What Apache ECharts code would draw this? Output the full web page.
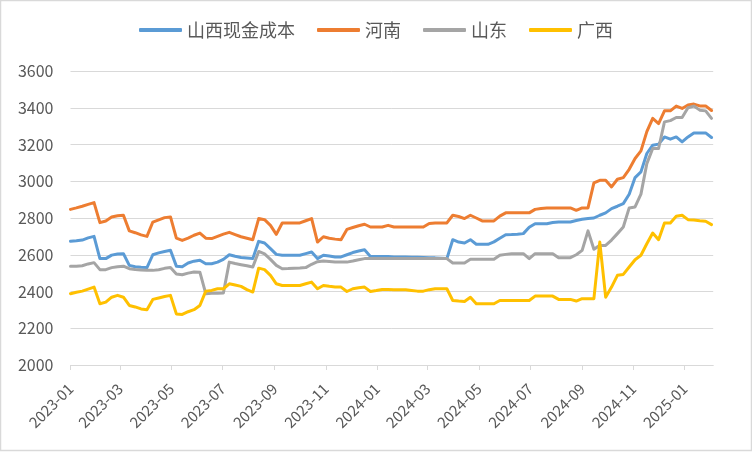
<!DOCTYPE html>
<html>
<head>
<meta charset="utf-8">
<script src="https://cdn.jsdelivr.net/npm/echarts@6/dist/echarts.min.js"></script>
<style>
html,body{margin:0;padding:0;background:#fff;}
#main{width:752px;height:452px;}
</style>
</head>
<body>
<div id="main"></div>
<script>
// Weekly observations starting 2023-01-01 (day offsets from 2023-01-01)
const startDate = '2023-01-01';
const weekCount = 110;
const seriesNames = ['山西现金成本', '河南', '山东', '广西'];
const tickMonths = ['2023-01','2023-03','2023-05','2023-07','2023-09','2023-11','2024-01','2024-03','2024-05','2024-07','2024-09','2024-11','2025-01'];
const yTicks = [2000, 2200, 2400, 2600, 2800, 3000, 3200, 3400, 3600];

const shanxi = [
2673,2676,2680,2692,2700,2579,2579,2598,2604,2606,
2542,2535,2532,2530,2600,2610,2618,2624,2538,2535,
2555,2565,2570,2551,2551,2560,2575,2600,2592,2585,
2582,2579,2673,2664,2633,2602,2597,2597,2597,2597,
2606,2615,2579,2597,2593,2588,2588,2600,2612,2620,
2627,2591,2591,2591,2590,2588,2588,2588,2587,2586,
2585,2584,2583,2581,2579,2682,2669,2664,2682,2657,
2657,2657,2670,2690,2709,2710,2712,2715,2750,2769,
2769,2769,2775,2778,2778,2778,2786,2793,2797,2800,
2815,2828,2851,2864,2878,2929,3020,3051,3151,3196,
3202,3241,3229,3241,3214,3241,3263,3263,3263,3238];

const henan = [
2847,2855,2864,2874,2884,2775,2784,2805,2812,2815,
2730,2720,2708,2700,2778,2790,2802,2806,2690,2678,
2690,2706,2718,2690,2688,2700,2712,2722,2710,2698,
2690,2682,2797,2791,2760,2711,2773,2773,2773,2773,
2785,2797,2669,2698,2690,2685,2682,2738,2748,2758,
2766,2751,2751,2751,2760,2751,2751,2751,2751,2751,
2751,2770,2773,2773,2773,2815,2808,2797,2815,2800,
2784,2784,2784,2810,2828,2828,2828,2828,2828,2847,
2852,2855,2855,2855,2855,2855,2842,2855,2855,2991,
3005,3005,2969,3011,3020,3065,3124,3165,3270,3342,
3314,3383,3383,3409,3396,3415,3420,3410,3410,3385];

const shandong = [
2537,2537,2540,2550,2557,2519,2519,2530,2535,2538,
2524,2520,2517,2515,2515,2518,2526,2530,2495,2491,
2500,2506,2505,2388,2390,2390,2392,2560,2552,2546,
2540,2533,2618,2605,2575,2542,2524,2525,2527,2528,
2530,2548,2562,2566,2563,2560,2560,2560,2566,2573,
2579,2579,2579,2579,2579,2579,2579,2579,2579,2579,
2579,2579,2579,2579,2579,2555,2555,2555,2575,2575,
2575,2575,2575,2597,2602,2606,2606,2606,2579,2606,
2606,2606,2606,2584,2584,2584,2600,2624,2730,2630,
2651,2651,2680,2715,2751,2855,2860,2930,3096,3178,
3178,3323,3330,3347,3347,3400,3409,3387,3383,3342];

const guangxi = [
2388,2396,2402,2413,2424,2333,2342,2369,2379,2369,
2324,2316,2305,2301,2357,2365,2373,2379,2278,2275,
2290,2301,2324,2402,2406,2415,2415,2442,2435,2428,
2410,2397,2527,2519,2488,2442,2433,2433,2433,2433,
2442,2451,2415,2433,2428,2424,2424,2400,2415,2420,
2424,2400,2405,2411,2411,2410,2410,2410,2406,2402,
2402,2410,2415,2415,2415,2351,2348,2346,2369,2333,
2333,2333,2333,2351,2351,2351,2351,2351,2351,2375,
2375,2375,2375,2357,2357,2357,2348,2361,2361,2361,
2669,2369,2424,2488,2493,2533,2573,2597,2660,2718,
2682,2773,2773,2809,2815,2791,2789,2785,2782,2764];

const colors = ['#5B9BD5', '#ED7D31', '#A5A5A5', '#FFC000'];
const DAY = 86400000;
const t0 = Date.UTC(2023, 0, 1);
function dayOf(str) {
  const p = str.split('-').map(Number);
  return (Date.UTC(p[0], p[1] - 1, p[2] || 1) - t0) / DAY;
}
const startDay = dayOf(startDate);
const days = [];
for (let i = 0; i < weekCount; i++) days.push(startDay + i * 7);
const tickDays = tickMonths.map(m => dayOf(m));
function fmt(d) {
  const dt = new Date(t0 + d * DAY);
  const m = dt.getUTCMonth() + 1;
  return dt.getUTCFullYear() + '-' + (m < 10 ? '0' + m : m);
}
const allData = [shanxi, henan, shandong, guangxi];
const txt = '#595959';
const ff = '"Noto Sans CJK SC", "Noto Sans", sans-serif';

const chart = echarts.init(document.getElementById('main'), null, {renderer: 'canvas'});
chart.setOption({
  animation: false,
  backgroundColor: '#fff',
  color: colors,
  graphic: [{
    type: 'rect', silent: true, z: -1,
    shape: {x: 0.5, y: 0.5, width: 751, height: 450},
    style: {fill: 'none', stroke: '#d9d9d9', lineWidth: 1.5}
  }],
  legend: {
    top: 16, left: 'center',
    icon: 'roundRect',
    itemWidth: 43, itemHeight: 4, itemGap: 22,
    textStyle: {fontSize: 18, color: txt, fontFamily: ff},
    data: seriesNames
  },
  grid: {left: 70.5, right: 38.8, top: 71, bottom: 87, containLabel: false},
  xAxis: {
    type: 'value',
    min: 0, max: 765,
    splitLine: {show: false},
    axisLine: {show: true, lineStyle: {color: '#d9d9d9', width: 1}},
    axisTick: {show: true, length: 5, customValues: tickDays, lineStyle: {color: '#d9d9d9'}},
    axisLabel: {
      customValues: tickDays, rotate: 45, margin: 21,
      fontSize: 15, color: txt, fontFamily: ff,
      formatter: v => fmt(v)
    }
  },
  yAxis: {
    type: 'value', min: yTicks[0], max: yTicks[yTicks.length - 1], interval: 200,
    axisLine: {show: false}, axisTick: {show: false},
    splitLine: {lineStyle: {color: '#d9d9d9', width: 1}},
    axisLabel: {fontSize: 16, color: txt, margin: 17, fontFamily: ff, formatter: v => String(v)}
  },
  series: seriesNames.map((n, i) => ({
    name: n, type: 'line', symbol: 'none', showSymbol: false,
    lineStyle: {width: 3, color: colors[i], cap: 'round', join: 'round'},
    itemStyle: {color: colors[i]},
    data: allData[i].map((v, j) => [days[j], v])
  }))
});
</script>
</body>
</html>
